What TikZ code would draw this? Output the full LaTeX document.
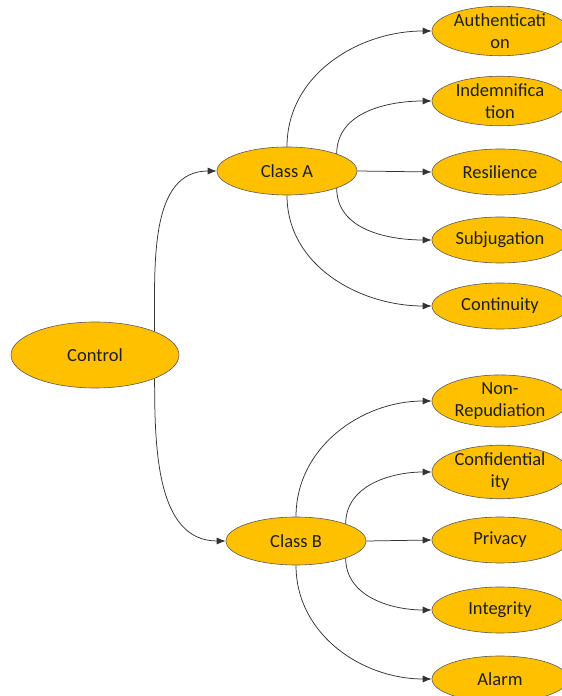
\documentclass[tikz,border=0pt]{standalone}
\usepackage{fontspec}
\setmainfont{Carlito}
\usetikzlibrary{shapes.geometric,arrows.meta}
\definecolor{gold}{HTML}{FFC000}
\definecolor{txt}{HTML}{1F1F1F}
\begin{document}
\begin{tikzpicture}[x=1pt,y=1pt,
  oval/.style={ellipse,draw=black!65,line width=0.6pt,fill=gold,inner sep=0pt,
    text=txt,align=center,font=\fontsize{18.5}{22}\selectfont},
  leaf/.style={oval,minimum width=136pt,minimum height=46pt},
  mid/.style={oval,minimum width=140pt,minimum height=48pt},
  link/.style={draw=black!80,line width=0.75pt,-{Latex[length=9pt,width=7pt]}}]
\useasboundingbox (0,0) rectangle (562,696);
\clip (0,0) rectangle (562,696);
% nodes (y = 696 - pixel y)
\node[oval,minimum width=168pt,minimum height=66pt] (ctrl) at (95,341) {Control};
\node[mid] (ca) at (287,525) {Class A};
\node[mid] (cb) at (296,155) {Class B};
\node[leaf] (auth) at (500,665) {Authenticati\\on};
\node[leaf] (indem) at (500,595) {Indemnifica\\tion};
\node[leaf] (resil) at (500,524) {Resilience};
\node[leaf] (subj) at (500,456) {Subjugation};
\node[leaf] (cont) at (500,390) {Continuity};
\node[leaf] (nonrep) at (500,295) {Non-\\Repudiation};
\node[leaf] (conf) at (500,224) {Confidential\\ity};
\node[leaf] (priv) at (500,156) {Privacy};
\node[leaf] (integ) at (500,86) {Integrity};
\node[leaf] (alarm) at (500,17) {Alarm};
% connectors
\draw[link] (ctrl.north east) to[out=90,in=180] (ca.west);
\draw[link] (ctrl.south east) to[out=-90,in=180] (cb.west);
\draw[link] (ca.north) to[out=90,in=180] (auth.west);
\draw[link] (ca.north east) to[out=90,in=180] (indem.west);
\draw[link] (ca.east) -- (resil.west);
\draw[link] (ca.south east) to[out=-90,in=180] (subj.west);
\draw[link] (ca.south) to[out=-90,in=180] (cont.west);
\draw[link] (cb.north) to[out=90,in=180] (nonrep.west);
\draw[link] (cb.north east) to[out=90,in=180] (conf.west);
\draw[link] (cb.east) -- (priv.west);
\draw[link] (cb.south east) to[out=-90,in=180] (integ.west);
\draw[link] (cb.south) to[out=-90,in=180] (alarm.west);
\end{tikzpicture}
\end{document}
